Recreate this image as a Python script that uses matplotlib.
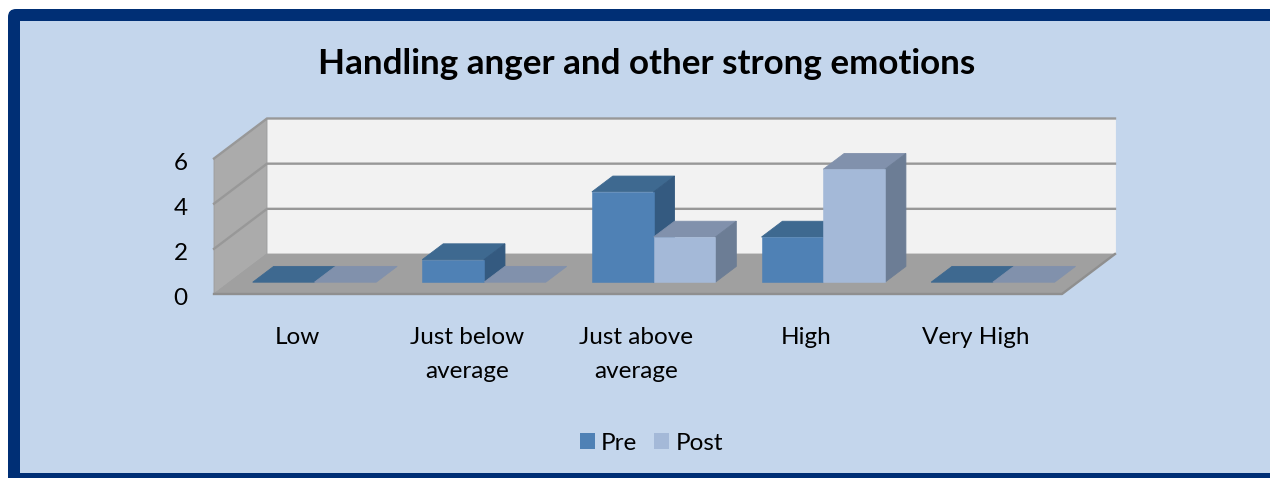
import matplotlib
matplotlib.use('Agg')
import matplotlib.pyplot as plt
from matplotlib.patches import FancyBboxPatch, Rectangle, Patch, Polygon
from matplotlib.transforms import ScaledTranslation

plt.rcParams['font.family'] = ['Lato', 'DejaVu Sans']

title = 'Handling anger and other strong emotions'
categories = ['Low', 'Just below\naverage', 'Just above\naverage', 'High', 'Very High']
pre_values = [0, 1, 4, 2, 0]
post_values = [0, 0, 2, 5, 0]
y_ticks = [0, 2, 4, 6]

W, H = 1270, 478
BG = '#c4d6ec'
NAVY = '#002f75'
PRE = ('#4f81b5', '#3e6990', '#345a80')
POST = ('#a4b9d8', '#8191ac', '#6c7d95')

# how far the back wall sits from the front plane, in data units
DEPTH_X = 53 / 169.6
DEPTH_Y = 40 / 22.58
BAR_W = 0.364
BAR_NEAR, BAR_FAR = 0.295, 0.69


def proj(x, y, d):
    return x + d * DEPTH_X, y + d * DEPTH_Y


def face(ax, points, color, edge=None, z=1, lw=0.6):
    pts = [proj(*p) for p in points]
    ax.add_patch(Polygon(pts, closed=True, facecolor=color, edgecolor=edge or color,
                         linewidth=lw, zorder=z, clip_on=False))


def draw_bar(ax, x, value, colors, z):
    front, top, side = colors
    x0, y0 = proj(x, 0, BAR_NEAR)
    if value > 0:
        ax.bar(x0, value, BAR_W, bottom=y0, align='edge', color=front,
               edgecolor=front, linewidth=0.4, zorder=z + 0.2)
    face(ax, [(x, value, BAR_NEAR), (x + BAR_W, value, BAR_NEAR),
              (x + BAR_W, value, BAR_FAR), (x, value, BAR_FAR)], top, z=z)
    if value > 0:
        face(ax, [(x + BAR_W, 0, BAR_NEAR), (x + BAR_W, value, BAR_NEAR),
                  (x + BAR_W, value, BAR_FAR), (x + BAR_W, 0, BAR_FAR)], side, z=z)


fig = plt.figure(figsize=(W / 100, H / 100), dpi=100, facecolor='white')

# outer panel, runs off the right and bottom edge of the picture
bg = fig.add_axes([0, 0, 1, 1])
bg.set_xlim(0, W)
bg.set_ylim(H, 0)
bg.axis('off')
bg.add_patch(FancyBboxPatch((14, 15), W + 60, H + 60, boxstyle='round,pad=6,rounding_size=8',
                            facecolor=NAVY, edgecolor='none'))
bg.add_patch(Rectangle((20, 21), W, 452, facecolor=BG, edgecolor='none'))

# main axes is the front plane of the chart
ax = fig.add_axes([214 / W, 1 - 294 / H, 848 / W, 135.5 / H])
ax.set_xlim(0, len(categories))
ax.set_ylim(0, 6)
ax.patch.set_alpha(0)
for s in ax.spines.values():
    s.set_visible(False)

n = len(categories)
face(ax, [(0, 0, 1), (n, 0, 1), (n, 6, 1), (0, 6, 1)], '#f2f2f2', z=1)
face(ax, [(0, 0, 0), (0, 6, 0), (0, 6, 1), (0, 0, 1)], '#ababab', edge='#9c9c9c', z=1.1)
face(ax, [(0, 0, 0), (n, 0, 0), (n, 0, 1), (0, 0, 1)], '#a0a0a0', z=1.2)

# gridlines wrap from the side wall on to the back wall
for v in y_ticks[1:]:
    xs, ys = zip(proj(0, v, 0), proj(0, v, 1), proj(n, v, 1))
    ax.plot(xs, ys, color='#989898', lw=1.7, zorder=1.3, clip_on=False, solid_joinstyle='miter')
xs, ys = zip(proj(0, 0, 0), proj(n, 0, 0), proj(n, 0, 1))
ax.plot(xs, ys, color='#8f8f8f', lw=1.7, zorder=1.3, clip_on=False)

for i in range(n):
    draw_bar(ax, i + 0.5 - BAR_W, pre_values[i], PRE, 2 + i)
    draw_bar(ax, i + 0.5, post_values[i], POST, 2.5 + i)

ax.set_yticks(y_ticks)
ax.set_xticks([i + 0.49 for i in range(n)])
ax.set_xticklabels(categories, linespacing=1.72)
ax.tick_params(axis='y', length=0, pad=19, labelsize=17.5)
ax.tick_params(axis='x', length=0, pad=24, labelsize=17.5)

# y labels sit a little below their gridline in the original
for label in ax.get_yticklabels():
    label.set_transform(label.get_transform() + ScaledTranslation(0, -2.5 / 100, fig.dpi_scale_trans))

fig.text(646.5 / W, 1 - 63.5 / H, title, fontsize=25.2, fontweight='bold', ha='center', va='center')

handles = [Patch(facecolor=PRE[0], label='Pre'), Patch(facecolor=POST[0], label='Post')]
fig.legend(handles=handles, loc='center', bbox_to_anchor=(651.5 / W, 1 - 443 / H), ncols=2,
           frameon=False, fontsize=17.5, handlelength=0.62, handleheight=0.62,
           handletextpad=0.25, columnspacing=0.7)

fig.savefig('out.png', dpi=100)
